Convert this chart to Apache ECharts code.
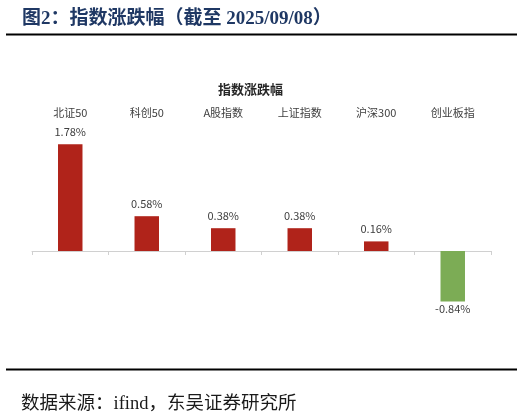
<!DOCTYPE html>
<html>
<head>
<meta charset="utf-8">
<script src="https://cdn.jsdelivr.net/npm/echarts@6/dist/echarts.min.js"></script>
<style>
  html, body { margin: 0; padding: 0; background: #fff; }
  #main { width: 531px; height: 416px; }
</style>
</head>
<body>
<div id="main"></div>
<script>
// index names and daily change (%)
const categories = ['北证50', '科创50', 'A股指数', '上证指数', '沪深300', '创业板指'];
const changes = [1.78, 0.58, 0.38, 0.38, 0.16, -0.84];

const upColor = '#B0231A';
const downColor = '#7CAC55';

const chart = echarts.init(document.getElementById('main'));

// positive bars get label above, negative ones below
const barData = changes.map(v => ({
    value: v,
    itemStyle: {color: v >= 0 ? upColor : downColor},
    label: {position: v >= 0 ? 'top' : 'bottom', distance: v >= 0 ? 7 : 2}
}));

const option = {
    animation: false,
    backgroundColor: '#fff',
    title: [
        {
            text: '图2：指数涨跌幅（截至 2025/09/08）',
            left: 17, top: 5,
            textStyle: {fontFamily: '"Liberation Serif", "Noto Sans CJK SC"', fontSize: 19, fontWeight: 'bold', color: '#1F3864'}
        },
        {
            text: '指数涨跌幅',
            left: 213, top: 78,
            textStyle: {fontFamily: '"Noto Sans CJK SC"', fontSize: 13, fontWeight: 'bold', color: '#262626'}
        },
        {
            text: '数据来源：ifind，东吴证券研究所',
            left: 16, top: 390,
            textStyle: {fontFamily: '"Liberation Serif", "Noto Sans CJK SC"', fontSize: 18.5, fontWeight: 'normal', color: '#1a1a1a'}
        }
    ],
    graphic: [
        {type: 'line', shape: {x1: 6, y1: 34.5, x2: 517, y2: 34.5}, style: {stroke: '#000', lineWidth: 2}},
        {type: 'line', shape: {x1: 6, y1: 369.5, x2: 517, y2: 369.5}, style: {stroke: '#000', lineWidth: 2}}
    ],
    grid: {left: 32, right: 40, top: 131, bottom: 105},
    xAxis: [
        {
            type: 'category',
            data: categories,
            position: 'bottom',
            axisLine: {onZero: true, lineStyle: {color: '#D0D0D0', width: 1}},
            axisTick: {show: true, length: 4, lineStyle: {color: '#D0D0D0'}},
            axisLabel: {show: false}
        },
        {
            // labels sit on top of the plot like the excel original
            type: 'category',
            data: categories,
            position: 'top',
            axisLine: {show: false, onZero: false},
            axisTick: {show: false},
            axisLabel: {margin: 13, fontSize: 11, color: '#404040', fontFamily: '"Noto Sans CJK SC"'}
        }
    ],
    yAxis: {
        type: 'value',
        min: -1,
        max: 2,
        show: false,
        splitLine: {show: false}
    },
    series: [
        {
            type: 'bar',
            xAxisIndex: 0,
            barWidth: '32%',
            data: barData,
            label: {
                show: true,
                fontSize: 11,
                color: '#404040',
                fontFamily: '"Noto Sans CJK SC"',
                formatter: p => p.value.toFixed(2) + '%'
            }
        }
    ]
};

chart.setOption(option);
</script>
</body>
</html>
